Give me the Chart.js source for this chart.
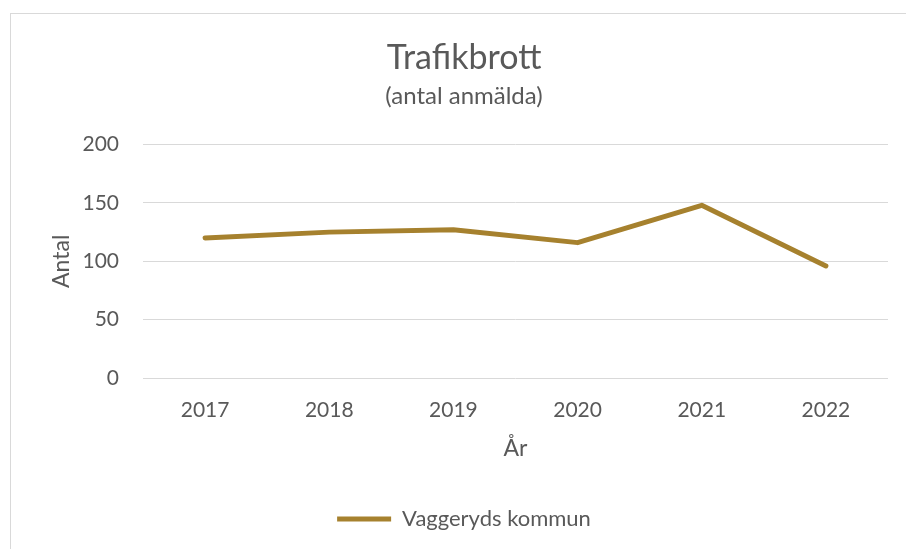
<!DOCTYPE html>
<html>
<head>
<meta charset="utf-8">
<script src="https://cdn.jsdelivr.net/npm/chart.js@4.4.0/dist/chart.umd.min.js"></script>
<style>
  html, body { margin: 0; padding: 0; background: #fff; overflow: hidden; }
  #box { position: absolute; left: 10px; top: 13px; width: 920px; height: 560px; border: 1px solid #d9d9d9; }
  #chart { display: block; }
</style>
</head>
<body>
<div id="box"><canvas id="chart" width="906" height="540"></canvas></div>
<script>
const years = ['2017', '2018', '2019', '2020', '2021', '2022'];
const vaggeryd = [120, 125, 127, 116, 148, 96];
const seriesName = 'Vaggeryds kommun';
const textColor = '#595959';
const fontFamily = 'Lato, "Open Sans", sans-serif';

document.addEventListener('DOMContentLoaded', () => {
    const ctx = document.getElementById('chart').getContext('2d');
    new Chart(ctx, {
        type: 'line',
        data: {
            labels: years,
            datasets: [{
                label: seriesName,
                data: vaggeryd,
                borderColor: '#a6812e',
                backgroundColor: '#a6812e',
                borderWidth: 5,
                borderCapStyle: 'round',
                borderJoinStyle: 'round',
                pointRadius: 0,
                pointHoverRadius: 0,
                tension: 0
            }]
        },
        options: {
            responsive: false,
            devicePixelRatio: 1,
            animation: false,
            layout: { padding: { left: 29, right: 29, top: 0, bottom: 14 } },
            plugins: {
                title: {
                    display: true,
                    text: 'Trafikbrott',
                    color: textColor,
                    font: { family: fontFamily, size: 34, weight: 'normal' },
                    padding: { top: 24, bottom: 0 }
                },
                subtitle: {
                    display: true,
                    text: '(antal anmälda)',
                    color: textColor,
                    font: { family: fontFamily, size: 24, weight: 'normal' },
                    padding: { top: 3, bottom: 34 }
                },
                legend: {
                    position: 'bottom',
                    labels: {
                        usePointStyle: true,
                        pointStyle: 'line',
                        pointStyleWidth: 54,
                        color: textColor,
                        font: { family: fontFamily, size: 22 },
                        padding: 10
                    }
                },
                tooltip: { enabled: false }
            },
            scales: {
                x: {
                    offset: true,
                    grid: { display: false },
                    border: { display: false },
                    ticks: { color: textColor, font: { family: fontFamily, size: 21 }, padding: 12 },
                    title: {
                        display: true,
                        text: 'År',
                        color: textColor,
                        font: { family: fontFamily, size: 23 },
                        padding: { top: 0, bottom: 36 }
                    },
                    afterFit: (scale) => { scale.height = 120; }
                },
                y: {
                    min: 0,
                    max: 200,
                    grid: { color: '#d9d9d9', lineWidth: 1, drawTicks: false },
                    border: { display: false },
                    ticks: { stepSize: 50, color: textColor, font: { family: fontFamily, size: 21 }, padding: 24 },
                    title: {
                        display: true,
                        text: 'Antal',
                        color: textColor,
                        font: { family: fontFamily, size: 23 },
                        padding: { top: 8, bottom: 0 }
                    },
                    afterFit: (scale) => { scale.width = 103; }
                }
            }
        }
    });
});
</script>
</body>
</html>
